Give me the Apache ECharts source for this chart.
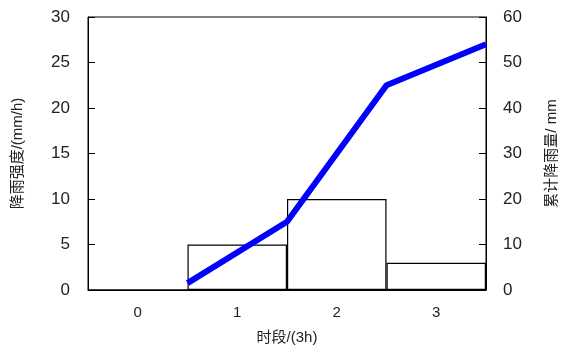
<!DOCTYPE html>
<html>
<head>
<meta charset="utf-8">
<script src="https://cdn.jsdelivr.net/npm/echarts@6/dist/echarts.min.js"></script>
<style>
  html, body { margin: 0; padding: 0; background: #fff; }
  #chart { width: 567px; height: 354px; }
</style>
</head>
<body>
<div id="chart"></div>
<script>
// periods (3h each)
var periods = ['0', '1', '2', '3'];
// rain intensity per period, mm/h
var intensity = [0, 5, 10, 3];
// cumulative rainfall at the end of each period, mm
var cumEnd = [0.5, 1.5, 2.5, 3.5];
var cumRain = [1.5, 15, 45, 54];

var font = 'Liberation Sans, Noto Sans CJK SC, sans-serif';
var txt = { color: '#222', fontSize: 15, fontFamily: font };
var tickTxt = { color: '#222', fontSize: 17, fontFamily: font };

var linePts = cumEnd.map(function (x, i) { return [x, cumRain[i]]; });

var option = {
  animation: false,
  grid: { left: 88, right: 76, top: 17, bottom: 64, show: true, borderColor: '#000', borderWidth: 1 },
  xAxis: [{
    type: 'category',
    data: periods,
    axisLine: { lineStyle: { color: '#000' } },
    axisTick: { show: false },
    axisLabel: Object.assign({ margin: 15 }, txt),
    name: '时段/(3h)',
    nameLocation: 'middle',
    nameGap: 40,
    nameTextStyle: txt
  }, {
    type: 'value', min: -0.5, max: 3.5, show: false
  }],
  yAxis: [{
    type: 'value', min: 0, max: 30, interval: 5,
    axisLine: { show: true, onZero: false, lineStyle: { color: '#000' } },
    axisTick: { show: true, inside: true, length: 7, lineStyle: { color: '#000' } },
    splitLine: { show: false },
    axisLabel: Object.assign({ margin: 18 }, tickTxt),
    name: '降雨强度/(mm/h)',
    nameLocation: 'middle',
    nameRotate: 90,
    nameGap: 63,
    nameTextStyle: txt
  }, {
    type: 'value', min: 0, max: 60, interval: 10,
    axisLine: { show: true, onZero: false, lineStyle: { color: '#000' } },
    axisTick: { show: true, inside: true, length: 7, lineStyle: { color: '#000' } },
    splitLine: { show: false },
    axisLabel: Object.assign({ margin: 17 }, tickTxt),
    name: '累计降雨量/ mm',
    nameLocation: 'middle',
    nameRotate: 90,
    nameGap: 58,
    nameTextStyle: txt
  }],
  series: [{
    type: 'bar',
    data: intensity,
    barCategoryGap: '0%',
    itemStyle: { color: '#fff', borderColor: '#000', borderWidth: 1.2 }
  }, {
    type: 'line',
    xAxisIndex: 1,
    yAxisIndex: 1,
    data: linePts,
    symbol: 'none',
    clip: false,
    lineStyle: { color: '#0000ff', width: 6 }
  }]
};

var myChart = echarts.init(document.getElementById('chart'));
myChart.setOption(option);
</script>
</body>
</html>
